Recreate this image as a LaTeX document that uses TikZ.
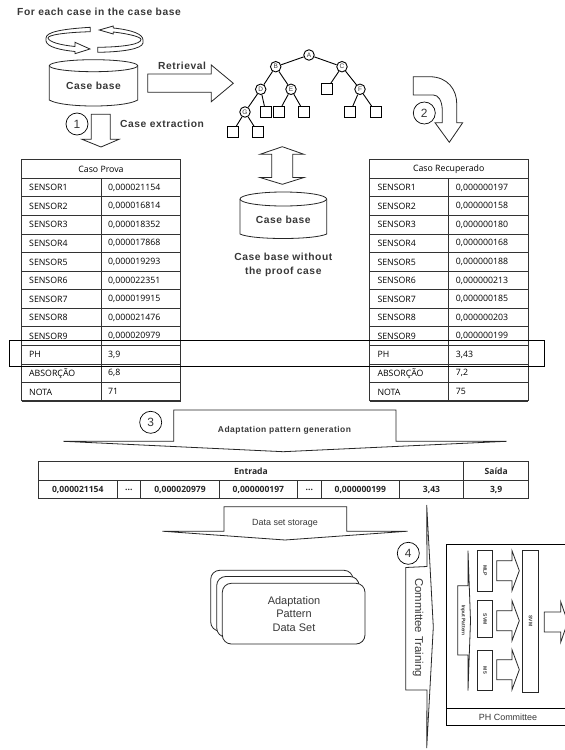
\documentclass[tikz,border=0pt]{standalone}
\usepackage{fontspec}
\setmainfont{Liberation Sans}
\newfontfamily\tabfont{Open Sans}
\newfontfamily\labelfont[LetterSpace=5.5]{Liberation Sans}
\definecolor{labelgray}{gray}{0.22}
\tikzset{
  label/.style={inner sep=0pt,text=labelgray,font=\labelfont\bfseries\fontsize{10.3}{13.8}\selectfont,align=center},
  plain/.style={inner sep=0pt,text=labelgray,font=\fontsize{9}{11}\selectfont,align=center},
  stepnum/.style={draw,circle,minimum size=22bp,inner sep=0pt,fill=white,line width=0.7bp,text=labelgray,font=\fontsize{12}{14}\selectfont},
  treenode/.style={draw,circle,minimum size=10.5bp,inner sep=0pt,line width=0.9bp,text=labelgray,font=\fontsize{6.5}{7}\selectfont},
  leaf/.style={draw,rectangle,minimum size=11bp,inner sep=0pt,line width=0.9bp},
  cell/.style={inner sep=0pt,anchor=west,font=\tabfont\fontsize{8.8}{10}\selectfont,text=black},
  hcell/.style={inner sep=0pt,font=\tabfont\bfseries\fontsize{8.6}{10}\selectfont,text=black!85},
  grid/.style={line width=1bp,black!80},
  block/.style={line width=0.8bp,black!85,fill=white},
  treeedge/.style={line width=0.9bp}
}
\begin{document}
\begin{tikzpicture}[x=1bp,y=-1bp]
\useasboundingbox (0,0) rectangle (565,750);
\clip (0,0) rectangle (565,750);

\node[label,anchor=west] (title) at (17,12) {For each case in the case base};

% rotating arrows
\draw[block] (90.3,27.3) .. controls (62,29) and (46,32) .. (46,38) -- (46,41) .. controls (47,47) and (60,50) .. (75,51.5) -- (75,53.7) -- (90,49) -- (75,42.3) -- (75,46.5) .. controls (60,45) and (49,42) .. (48,38) .. controls (48,35) and (64,32.5) .. (90.3,31.7) -- cycle;
\draw[block] (97.7,47.3) .. controls (125,47) and (141,44) .. (141,39.5) .. controls (141,37) and (130,34) .. (113.3,32) -- (113.3,34) -- (99.3,30) -- (113.3,26) -- (113.3,28) .. controls (132,30) and (143,34) .. (143,40) -- (143,43) .. controls (142,49) and (122,52) .. (97.7,52.3) -- cycle;

% case base
\draw[block] (49.3,65.7) -- (49.3,100) .. controls (62,108) and (125,108) .. (137.7,100) -- (137.7,65.7);
\draw[block] (93.5,65.7) ellipse [x radius=44.2,y radius=6];
\node[label] (casebase) at (93.5,86) {Case base};

% retrieval
\draw[block] (147.7,74) -- (211.3,74) -- (211.3,65) -- (233.3,83.3) -- (211.3,101.7) -- (211.3,92.3) -- (147.7,92.3) -- cycle;
\node[label] (retrieval) at (182,66) {Retrieval};

% extraction
\draw[block] (91.3,114.3) -- (110.3,114.3) -- (110.3,139.3) -- (119,139.3) -- (101,147) -- (82,139.3) -- (91.3,139.3) -- cycle;
\node[stepnum] (one) at (77,124) {1};
\node[label,anchor=west] (extraction) at (120,124) {Case extraction};

% tree
\node[treenode] (A) at (309,55) {A};
\node[treenode] (B) at (275.7,66.7) {B};
\node[treenode] (C) at (342,66.7) {C};
\node[treenode] (D) at (260.7,89.3) {D};
\node[treenode] (E) at (291,89.3) {E};
\node[leaf] (lc) at (326.7,89.3) {};
\node[treenode] (F) at (360,89.3) {F};
\node[treenode] (G) at (245,112) {G};
\node[leaf] (ld) at (265.7,112) {};
\node[leaf] (le1) at (278.7,112) {};
\node[leaf] (le2) at (304,112) {};
\node[leaf] (lf1) at (350.3,112) {};
\node[leaf] (lf2) at (375.7,112) {};
\node[leaf] (lg1) at (232.7,132) {};
\node[leaf] (lg2) at (257.7,132) {};
\draw[treeedge] (A) -- (B);
\draw[treeedge] (A) -- (C);
\draw[treeedge] (B) -- (D);
\draw[treeedge] (B) -- (E);
\draw[treeedge] (C) -- (lc);
\draw[treeedge] (C) -- (F);
\draw[treeedge] (D) -- (G);
\draw[treeedge] (D) -- (ld);
\draw[treeedge] (E) -- (le1);
\draw[treeedge] (E) -- (le2);
\draw[treeedge] (F) -- (lf1);
\draw[treeedge] (F) -- (lf2);
\draw[treeedge] (G) -- (lg1);
\draw[treeedge] (G) -- (lg2);

% curved arrow
\draw[block] (413.3,76.7) -- (430,76.7) .. controls (448,77) and (456.7,90) .. (456.7,103.3) -- (456.7,122.7) -- (462.7,122.7) -- (449.3,142.3) -- (435,122.7) -- (442.3,122.7) -- (442.3,110) .. controls (442,100) and (438,95) .. (433.3,95) -- (413.3,95) -- cycle;
\node[stepnum] (two) at (424.3,113) {2};

% double arrow
\draw[block] (282.3,146.7) -- (304,154.3) -- (292.7,154.3) -- (292.7,177.5) -- (304,177.5) -- (282.3,184.3) -- (260,177.5) -- (271.7,177.5) -- (271.7,154.3) -- (260,154.3) -- cycle;

% case base without proof case
\draw[block] (240,199) -- (240,234) .. controls (252,240) and (314,240) .. (326.7,234) -- (326.7,199);
\draw[block] (283.3,199) ellipse [x radius=43.3,y radius=7];
\node[label] (casebasetwo) at (283.3,220) {Case base};
\node[label] (without) at (283.3,265) {Case base without\\the proof case};

% tables
\draw[grid] (21.5,159.3) rectangle (180.5,400.7);
\draw[grid] (369.5,159.3) rectangle (528,400.7);
\draw[grid] (101,178.3) -- (101,400.7);
\draw[grid] (448.7,178.3) -- (448.7,400.7);
\foreach \i in {0,...,12} {
  \draw[grid] (21.5,178.3+\i*18.57) -- (180.5,178.3+\i*18.57);
  \draw[grid] (369.5,178.3+\i*18.57) -- (528,178.3+\i*18.57);
}
\node[cell,anchor=center] (provahead) at (101,169) {Caso Prova};
\node[cell,anchor=center] (recuphead) at (448.7,169) {Caso Recuperado};
\foreach \i/\name/\prova/\recup in {1/SENSOR1/{0,000021154}/{0,000000197},2/SENSOR2/{0,000016814}/{0,000000158},3/SENSOR3/{0,000018352}/{0,000000180},4/SENSOR4/{0,000017868}/{0,000000168},5/SENSOR5/{0,000019293}/{0,000000188},6/SENSOR6/{0,000022351}/{0,000000213},7/SENSOR7/{0,000019915}/{0,000000185},8/SENSOR8/{0,000021476}/{0,000000203},9/SENSOR9/{0,000020979}/{0,000000199},10/PH/{3,9}/{3,43},11/ABSORÇÃO/{6,8}/{7,2},12/NOTA/71/75}
{
  \node[cell] (pn\i) at (29,178.3+\i*18.57-9.28) {\name};
  \node[cell] (pv\i) at (108,178.3+\i*18.57-9.28) {\prova};
  \node[cell] (rn\i) at (377.3,178.3+\i*18.57-9.28) {\name};
  \node[cell] (rv\i) at (455.7,178.3+\i*18.57-9.28) {\recup};
}

% PH band
\draw[line width=0.7bp] (9,340.3) rectangle (544,366.7);

% adaptation arrow
\draw[block] (63.3,441.3) -- (173.7,441.3) -- (173.7,410) -- (396,410) -- (396,441.3) -- (506.7,441.3) -- (283.3,451.7) -- cycle;
\node[stepnum] (three) at (150.7,422.3) {3};
\node[label,font=\labelfont\bfseries\fontsize{8.5}{11}\selectfont] (adaptation) at (284.5,430) {Adaptation pattern generation};

% pattern table
\draw[grid] (38.7,461.7) rectangle (528.7,498.7);
\draw[grid] (38.7,480.3) -- (528.7,480.3);
\draw[grid] (463.7,461.7) -- (463.7,498.7);
\foreach \c in {117,140.7,219.3,297.5,321.3,399.3}
  \draw[grid] (\c,480.3) -- (\c,498.7);
\node[hcell] (entrada) at (251,471) {Entrada};
\node[hcell] (saida) at (496.2,471) {Saída};
\node[hcell] (ea) at (77.8,489.5) {0,000021154};
\node[hcell] (eb) at (128.8,489.5) {...};
\node[hcell] (ec) at (180,489.5) {0,000020979};
\node[hcell] (ed) at (258.4,489.5) {0,000000197};
\node[hcell] (ee) at (309.4,489.5) {...};
\node[hcell] (ef) at (360.3,489.5) {0,000000199};
\node[hcell] (eg) at (431.5,489.5) {3,43};
\node[hcell] (eh) at (496.2,489.5) {3,9};

% storage arrow
\draw[block] (162.3,531.2) -- (224,531.2) -- (224,506.7) -- (346.7,506.7) -- (346.7,531.2) -- (407.7,531.2) -- (285,540) -- cycle;
\node[plain] (storage) at (285,523) {Data set storage};

% data set stack
\draw[block,rounded corners=9bp] (210.7,570.3) rectangle (353,631);
\draw[block,rounded corners=9bp] (216.7,576.5) rectangle (359,637);
\draw[block,rounded corners=9bp] (222.3,583.3) rectangle (365,644);
\node[plain,font=\fontsize{11}{13.3}\selectfont] (dataset) at (294,614) {Adaptation\\Pattern\\Data Set};

% committee training arrow
\draw[block] (426.7,505) -- (427,566.5) -- (405.7,567.5) -- (405.7,690) -- (427,690) -- (426.7,748) -- (433.3,627) -- cycle;
\node[stepnum] (four) at (408.3,553.3) {4};
\node[plain,rotate=-90,font=\fontsize{11.4}{13}\selectfont] (training) at (418,627.5) {Committee Training};

% committee
\draw[line width=0.7bp] (446,544) rectangle (575,725.7);
\draw[line width=1bp] (446,708.7) -- (575,708.7);
\node[plain] (committee) at (508,717.3) {PH Committee};
\draw[block] (468,550.7) -- (468,585.7) -- (457.7,585.7) -- (457.7,655) -- (468,655) -- (468,690.7) -- (470.5,620.7) -- cycle;
\node[plain,rotate=-90,font=\bfseries\fontsize{5}{6}\selectfont] (input) at (463,620.4) {Input Pattern};
\foreach \name/\txt/\top/\bot in {mlp/MLP/550.7/591,svm/SVM/600.7/637.7,msn/M5/650/690.7}
{
  \draw[block,line width=1bp] (477.3,\top) rectangle (492.7,\bot);
  \node[plain,rotate=-90,font=\bfseries\fontsize{5}{6}\selectfont] (\name) at (485,\top/2+\bot/2) {\txt};
}
\foreach \c in {570.7,620.7,669.7}
  \draw[block] (496.7,\c-10) -- (512,\c-10) -- (512,\c-20) -- (519.3,\c) -- (512,\c+20) -- (512,\c+10) -- (496.7,\c+10) -- cycle;
\draw[block,line width=1bp] (522.7,550) rectangle (538.3,692.3);
\node[plain,rotate=-90,font=\bfseries\fontsize{5}{6}\selectfont] (svmout) at (530.5,621) {SVM};
\draw[block] (544.3,612) -- (560.7,612) -- (560.7,601.7) -- (567.7,622) -- (560.7,642.3) -- (560.7,632) -- (544.3,632) -- cycle;
\end{tikzpicture}
\end{document}
